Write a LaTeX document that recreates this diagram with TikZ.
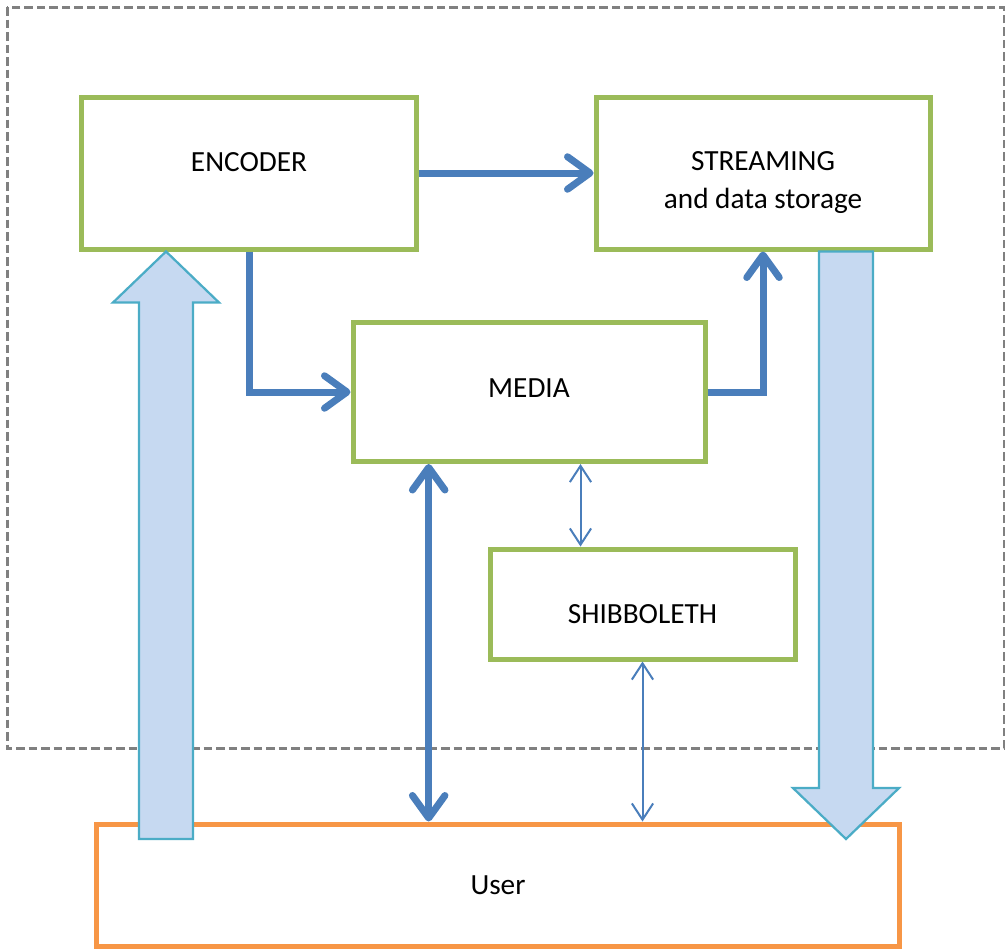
\documentclass[tikz,border=0pt]{standalone}
\usepackage{fontspec}
\setmainfont{Carlito}
\usetikzlibrary{calc,positioning,arrows.meta}
\definecolor{boxgreen}{HTML}{9BBB59}
\definecolor{linkblue}{HTML}{4A7EBB}
\definecolor{fatfill}{HTML}{C6D9F1}
\definecolor{fatedge}{HTML}{4BACC6}
\definecolor{userorange}{HTML}{F79646}
\definecolor{framegrey}{HTML}{808080}
\tikzset{
  box/.style={draw=boxgreen, line width=2pt, fill=white, align=center, inner sep=3pt,
    font=\fontsize{11.7}{14.8}\selectfont},
  bigbox/.style={box, minimum width=133.6pt, minimum height=60.8pt},
  midbox/.style={box, minimum width=140.8pt, minimum height=55.6pt},
  smallbox/.style={box, minimum width=122pt, minimum height=44pt},
  userbox/.style={box, draw=userorange, minimum width=320.8pt, minimum height=48.8pt},
  link/.style={draw=linkblue, line width=2.8pt, -{Straight Barb[length=9pt,width=13pt,round]}},
  biglink/.style={link, {Straight Barb[length=9pt,width=13pt,round]}-{Straight Barb[length=9pt,width=13pt,round]}},
  thinlink/.style={draw=linkblue, line width=0.8pt,
    {Straight Barb[length=6.5pt,width=8.5pt]}-{Straight Barb[length=6.5pt,width=8.5pt]}},
  fat/.style={draw=fatedge, fill=fatfill, line width=0.9pt},
  frame/.style={draw=framegrey, line width=1.2pt, dash pattern=on 3.4pt off 1.6pt}
}
\begin{document}
\begin{tikzpicture}[x=0.4pt, y=-0.4pt]
  \useasboundingbox (0,0) rectangle (1005,949);
  % system frame
  \draw[frame] (7,7) rectangle (1004,748);
  % boxes (text height/depth only set where the label sits off centre)
  \node[bigbox, text height=8pt, text depth=9.2pt] (enc) at (249,173) {ENCODER};
  \node[bigbox, right=70pt of enc, text height=30pt] (str) {STREAMING\\and data storage};
  \node[midbox, text height=8pt, text depth=3.6pt] (med) at (529,392) {MEDIA};
  \node[smallbox, text height=15.6pt, text depth=0pt] (shib) at (642.5,604) {SHIBBOLETH};
  \node[userbox] (usr) at (498,885) {User};
  % links
  \draw[link] (enc.east) -- (str.west);
  \draw[link] (enc.south) |- (med.west);
  \draw[link] (med.east) -| (str.south);
  \coordinate (mx) at ($(med.south west)!0.219!(med.south east)$);
  \draw[biglink] (mx) -- (mx |- usr.north);
  \coordinate (sx) at ($(shib.north west)!0.3!(shib.north east)$);
  \draw[thinlink] (sx |- med.south) -- (sx);
  \draw[thinlink] (shib.south) -- (shib.south |- usr.north);
  % big arrows to and from the user
  \coordinate (upb) at (166,839);
  \draw[fat] ($(upb)+(-27,0)$) -- ($(upb |- enc.south)+(-27,51)$) -- ++(-26,0)
    -- (upb |- enc.south) -- ($(upb |- enc.south)+(53,51)$) -- ++(-26,0)
    -- ($(upb)+(27,0)$) -- cycle;
  \coordinate (dnb) at (846,839);
  \draw[fat] ($(dnb |- str.south)+(-27,0)$) -- ($(dnb)+(-27,-51)$) -- ++(-26,0)
    -- (dnb) -- ($(dnb)+(53,-51)$) -- ++(-26,0)
    -- ($(dnb |- str.south)+(27,0)$) -- cycle;
\end{tikzpicture}
\end{document}
